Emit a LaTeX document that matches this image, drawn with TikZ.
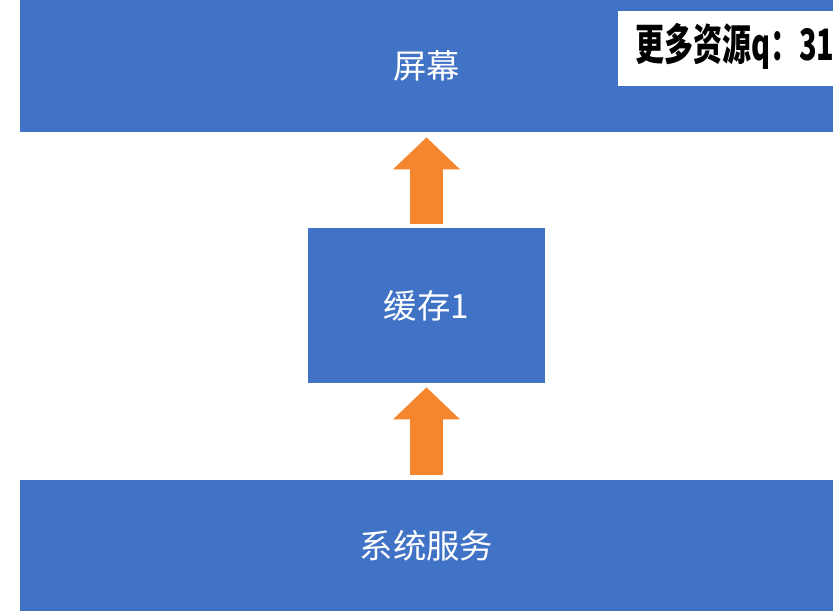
\documentclass[tikz,border=0pt]{standalone}
\usepackage{fontspec}
\setmainfont{Noto Sans CJK SC}
\usepackage{tikz}
\usetikzlibrary{positioning, arrows.meta}

\definecolor{layerblue}{RGB}{64,114,198}
\definecolor{floworange}{RGB}{246,134,46}

\tikzset{
    layer/.style={
        rectangle,
        fill=layerblue,
        text=white,
        inner sep=0pt,
        font=\fontsize{19pt}{22pt}\selectfont
    },
    flow/.style={
        draw=floworange,
        line width=0.66cm,
        -{Triangle[length=0.64cm, width=1.3cm]}
    }
}

\begin{document}
\begin{tikzpicture}[x=0.02cm, y=-0.02cm]
    \useasboundingbox (0,0) rectangle (838,615);

    \node[
        layer,
        minimum width=16.26cm,
        minimum height=2.64cm
    ] (screen) at (426.5,66) {屏幕};

    \node[
        layer,
        minimum width=4.74cm,
        minimum height=3.1cm
    ] (cache) at (426.5,305.5) {缓存1};

    \node[
        layer,
        minimum width=16.26cm,
        minimum height=2.62cm
    ] (service) at (426.5,545.5) {系统服务};

    % data flows upwards
    \draw[flow, shorten <=0.08cm, shorten >=0.1cm] (cache.north) -- (screen.south);
    \draw[flow, shorten <=0.1cm, shorten >=0.08cm] (service.north) -- (cache.south);

    % overlay label in the corner
    \begin{scope}
        \clip (618,0) rectangle (833,132);
        \node[
            rectangle,
            fill=white,
            minimum width=4.4cm,
            minimum height=1.5cm,
            anchor=north west,
            inner sep=0pt
        ] (tag) at (618,11) {};
        \node[
            anchor=west,
            inner sep=0pt,
            xscale=0.97,
            yscale=1.45,
            font=\fontsize{17pt}{20pt}\selectfont\bfseries
        ] (tagtext) at (635,46) {更多资源q：31};
    \end{scope}
\end{tikzpicture}
\end{document}
